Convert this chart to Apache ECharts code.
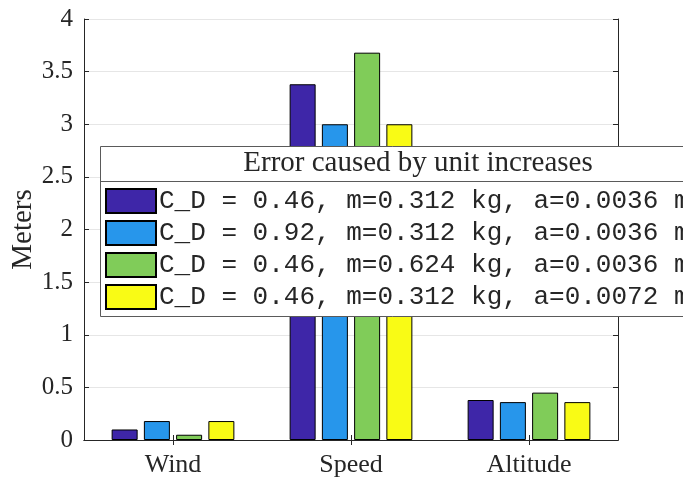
<!DOCTYPE html>
<html>
<head>
<meta charset="utf-8">
<script src="https://cdn.jsdelivr.net/npm/echarts@6/dist/echarts.min.js"></script>
<style>
  html, body { margin: 0; padding: 0; background: #ffffff; }
  #chart { width: 683px; height: 477px; }
</style>
</head>
<body>
<div id="chart"></div>
<script>
// Categories along the x axis
const categories = ['Wind', 'Speed', 'Altitude'];

// Error (meters) for each parameter set
const seriesNames = [
  'C_D = 0.46, m=0.312 kg, a=0.0036 m^2',
  'C_D = 0.92, m=0.312 kg, a=0.0036 m^2',
  'C_D = 0.46, m=0.624 kg, a=0.0036 m^2',
  'C_D = 0.46, m=0.312 kg, a=0.0072 m^2'
];
const baseCase      = [0.10, 3.38, 0.38];
const doubleDrag    = [0.18, 3.00, 0.36];
const doubleMass    = [0.05, 3.68, 0.45];
const doubleArea    = [0.18, 3.00, 0.36];
const seriesValues = [baseCase, doubleDrag, doubleMass, doubleArea];

// y axis ticks
const yMin = 0, yMax = 4, yStep = 0.5;

const colors = ['#3e26a8', '#2796eb', '#80cc59', '#f9fb15'];
const legendTitle = 'Error caused by unit increases';
const yTitle = 'Meters';

const serif = '"Liberation Serif", "Times New Roman", serif';
const mono = '"Liberation Mono", "Courier New", monospace';
const axisColor = '#262626';

const chart = echarts.init(document.getElementById('chart'), null, { renderer: 'canvas' });

const option = {
  animation: false,
  backgroundColor: '#ffffff',
  color: colors,
  grid: { left: 84, top: 19, width: 534, height: 421, containLabel: false, outerBoundsMode: 'none' },
  xAxis: [
    {
      type: 'category',
      data: categories,
      position: 'bottom',
      axisLine: { show: true, lineStyle: { color: axisColor, width: 1 } },
      axisTick: { show: true, inside: true, length: 5, alignWithLabel: true, lineStyle: { color: axisColor } },
      axisLabel: { fontFamily: serif, fontSize: 26, color: '#262626', margin: 12 }
    },
    {
      type: 'category',
      data: categories,
      position: 'top',
      axisLine: { show: true, lineStyle: { color: axisColor, width: 1 } },
      axisTick: { show: true, inside: true, length: 5, alignWithLabel: true, lineStyle: { color: axisColor } },
      axisLabel: { show: false }
    }
  ],
  yAxis: [
    {
      type: 'value',
      min: yMin, max: yMax, interval: yStep,
      position: 'left',
      name: yTitle,
      nameLocation: 'middle',
      nameGap: 46,
      nameMoveOverlap: false,
      nameTextStyle: { fontFamily: serif, fontSize: 29, color: '#262626' },
      axisLine: { show: true, lineStyle: { color: axisColor, width: 1 } },
      axisTick: { show: true, inside: true, length: 5, lineStyle: { color: axisColor } },
      axisLabel: { fontFamily: serif, fontSize: 25, color: '#262626', margin: 11 },
      splitLine: { show: true, lineStyle: { color: '#e6e6e6', width: 1 } }
    },
    {
      type: 'value',
      min: yMin, max: yMax, interval: yStep,
      position: 'right',
      axisLine: { show: true, lineStyle: { color: axisColor, width: 1 } },
      axisTick: { show: true, inside: true, length: 5, lineStyle: { color: axisColor } },
      axisLabel: { show: false },
      splitLine: { show: false }
    }
  ],
  legend: {
    orient: 'vertical',
    left: 105,
    top: 188,
    padding: 0,
    z: 10,
    itemWidth: 50,
    itemHeight: 24,
    itemGap: 6,
    icon: 'rect',
    textStyle: { fontFamily: mono, fontSize: 26, color: '#262626', lineHeight: 24, padding: [0, 0, 0, -2] },
    data: seriesNames
  },
  graphic: [
    {
      type: 'rect',
      z: 8,
      shape: { x: 100.5, y: 146.5, width: 700, height: 170 },
      style: { fill: '#ffffff', stroke: '#5a5a5a', lineWidth: 1 }
    },
    {
      type: 'line',
      z: 9,
      shape: { x1: 100, y1: 181.5, x2: 800, y2: 181.5 },
      style: { stroke: '#5a5a5a', lineWidth: 1 }
    },
    {
      type: 'text',
      z: 9,
      x: 418,
      y: 163,
      style: {
        text: legendTitle,
        font: '29px ' + serif,
        fill: '#262626',
        textAlign: 'center',
        textVerticalAlign: 'middle'
      }
    }
  ],
  series: seriesNames.map((name, i) => ({
    name: name,
    type: 'bar',
    xAxisIndex: 0,
    yAxisIndex: 0,
    data: seriesValues[i],
    barWidth: 26,
    barGap: '24%',
    itemStyle: { color: colors[i], borderColor: '#000000', borderWidth: 1 }
  }))
};

chart.setOption(option);
</script>
</body>
</html>
